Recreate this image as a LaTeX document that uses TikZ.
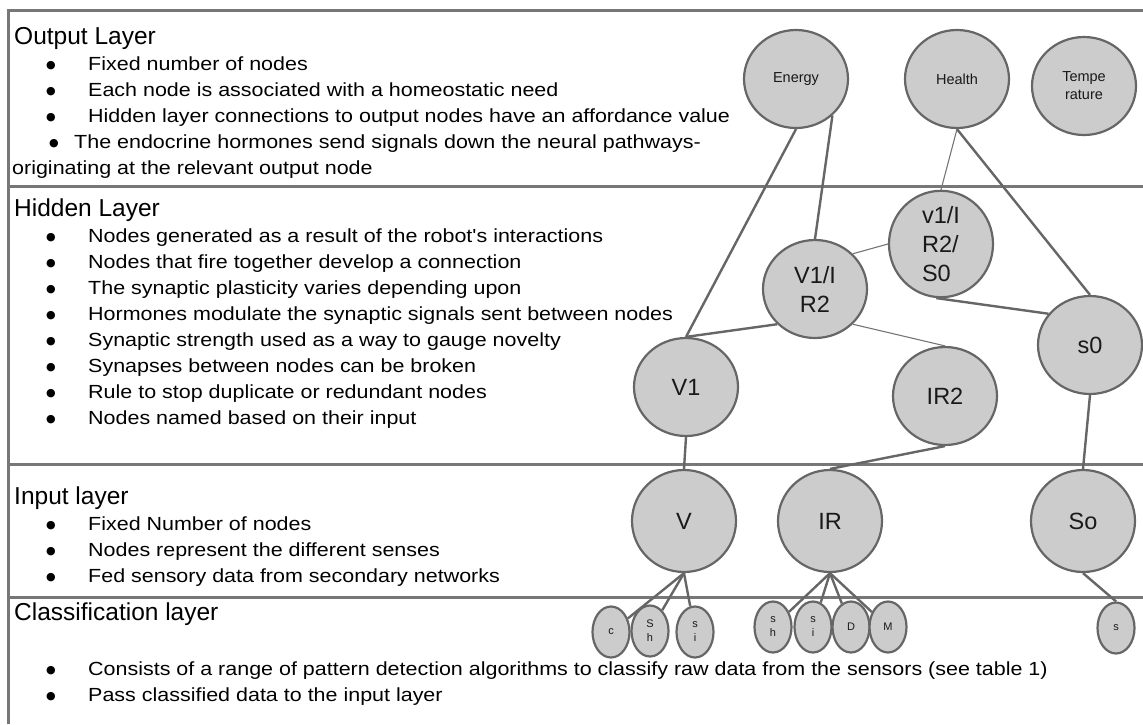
\documentclass[tikz,border=0pt]{standalone}
\usepackage{fontspec}
\setmainfont{Liberation Sans}
\newfontfamily\bodyfont[FakeStretch=1.13]{Liberation Sans}
\newfontfamily\symbolfont{DejaVu Sans}
\usetikzlibrary{shapes.geometric}
\definecolor{rulegrey}{HTML}{777777}
\definecolor{nodefill}{HTML}{CCCCCC}
\definecolor{nodeline}{HTML}{666666}
\newcommand\listdot{\raisebox{1.2pt}{\symbolfont\fontsize{11}{11}\selectfont ●}}
\newcommand\bl[1]{\makebox[42pt][l]{\listdot}#1}
\begin{document}
\begin{tikzpicture}[x=1pt,y=-1pt,
  layerrule/.style={draw=rulegrey, line width=3pt},
  title/.style={anchor=base west, inner sep=0pt, font=\fontsize{24.5}{28}\selectfont},
  item/.style={anchor=base west, inner sep=0pt, font=\bodyfont\fontsize{19}{23}\selectfont},
  neuron/.style={ellipse, draw=nodeline, fill=nodefill, line width=2.2pt, inner sep=0pt,
    minimum width=104pt, minimum height=98pt, align=center, text=black!90,
    font=\fontsize{23.5}{29}\selectfont},
  need/.style={neuron, font=\fontsize{14.5}{18}\selectfont},
  sense/.style={neuron, minimum height=102pt},
  feature/.style={neuron, minimum width=37pt, minimum height=51pt,
    font=\fontsize{11}{14}\selectfont},
  strong/.style={draw=nodeline, line width=2.4pt},
  weak/.style={draw=nodeline!90, line width=1.1pt}]
\useasboundingbox (0,0) rectangle (1143,724);

% layer boxes
\draw[layerrule] (8,724) -- (8,10) -- (1143,10);
\draw[layerrule] (8,186) -- (1143,186);
\draw[layerrule] (8,464) -- (1143,464);
\draw[layerrule] (8,597) -- (1143,597);

% output layer text
\node[title] (outT) at (14,44) {Output Layer};
\node[item] (out1) at (46,70) {\bl{Fixed number of nodes}};
\node[item] (out2) at (46,96) {\bl{Each node is associated with a homeostatic need}};
\node[item] (out3) at (46,122) {\bl{Hidden layer connections to output nodes have an affordance value}};
\node[item] (out4) at (49,148) {\makebox[25pt][l]{\listdot}The endocrine hormones send signals down the neural pathways-};
\node[item] (out5) at (12,174) {originating at the relevant output node};

% hidden layer text
\node[title] (hidT) at (14,216) {Hidden Layer};
\node[item] (hid1) at (46,242) {\bl{Nodes generated as a result of the robot's interactions}};
\node[item] (hid2) at (46,268) {\bl{Nodes that fire together develop a connection}};
\node[item] (hid3) at (46,294) {\bl{The synaptic plasticity varies depending upon}};
\node[item] (hid4) at (46,320) {\bl{Hormones modulate the synaptic signals sent between nodes}};
\node[item] (hid5) at (46,346) {\bl{Synaptic strength used as a way to gauge novelty}};
\node[item] (hid6) at (46,372) {\bl{Synapses between nodes can be broken}};
\node[item] (hid7) at (46,398) {\bl{Rule to stop duplicate or redundant nodes}};
\node[item] (hid8) at (46,424) {\bl{Nodes named based on their input}};

% input layer text
\node[title] (inT) at (14,504) {Input layer};
\node[item] (in1) at (46,530) {\bl{Fixed Number of nodes}};
\node[item] (in2) at (46,556) {\bl{Nodes represent the different senses}};
\node[item] (in3) at (46,582) {\bl{Fed sensory data from secondary networks}};

% classification layer text
\node[title] (clT) at (14,620) {Classification layer};
\node[item] (cl1) at (46,675) {\bl{Consists of a range of pattern detection algorithms to classify raw data from the sensors (see table 1)}};
\node[item] (cl2) at (46,701) {\bl{Pass classified data to the input layer}};

% output nodes
\node[need] (Energy) at (796,79) {Energy};
\node[need] (Health) at (957,79) {Health};
\node[need] (Temp) at (1084,86) {Tempe\\rature};

% hidden nodes
\node[neuron] (VIR) at (815,289) {V1/I\\R2};
\node[neuron, align=left] (VIS) at (941,244) {v1/I\\R2/\\S0};
\node[neuron] (V1) at (686,387) {V1};
\node[neuron] (IR2) at (945,396) {IR2};
\node[neuron] (s0) at (1090,345) {s0};

% input nodes
\node[sense] (V) at (684,521) {V};
\node[sense] (IR) at (830,521) {IR};
\node[sense] (So) at (1083,521) {So};

% classifier nodes
\node[feature] (c) at (611,632) {c};
\node[feature] (Sh) at (650,631) {S\\h};
\node[feature] (si) at (695,632) {s\\i};
\node[feature] (sh) at (773,627) {s\\h};
\node[feature] (si2) at (813,627) {s\\i};
\node[feature] (D) at (851,627) {D};
\node[feature] (M) at (888,627) {M};
\node[feature] (s) at (1116,628) {s};

% connections
\draw[strong] (Energy.south) -- (V1.north);
\draw[strong] (Energy.-45) -- (VIR.north);
\draw[weak] (Health.south) -- (VIS.north);
\draw[strong] (Health.south) -- (s0.north);
\draw[weak] (VIR.43) -- (VIS.west);
\draw[strong] (VIR.-137) -- (V1.north);
\draw[weak] (VIR.-43) -- (IR2.north);
\draw[strong] (VIS.-95) -- (s0.143);
\draw[strong] (V1.south) -- (V.north);
\draw[strong] (IR2.south) -- (IR.north);
\draw[strong] (s0.south) -- (So.north);
\foreach \k in {c,Sh,si} \draw[strong] (V.south) -- (\k);
\foreach \k in {sh,si2,D,M} \draw[strong] (IR.south) -- (\k);
\draw[strong] (So.south) -- (s.north);
\end{tikzpicture}
\end{document}
